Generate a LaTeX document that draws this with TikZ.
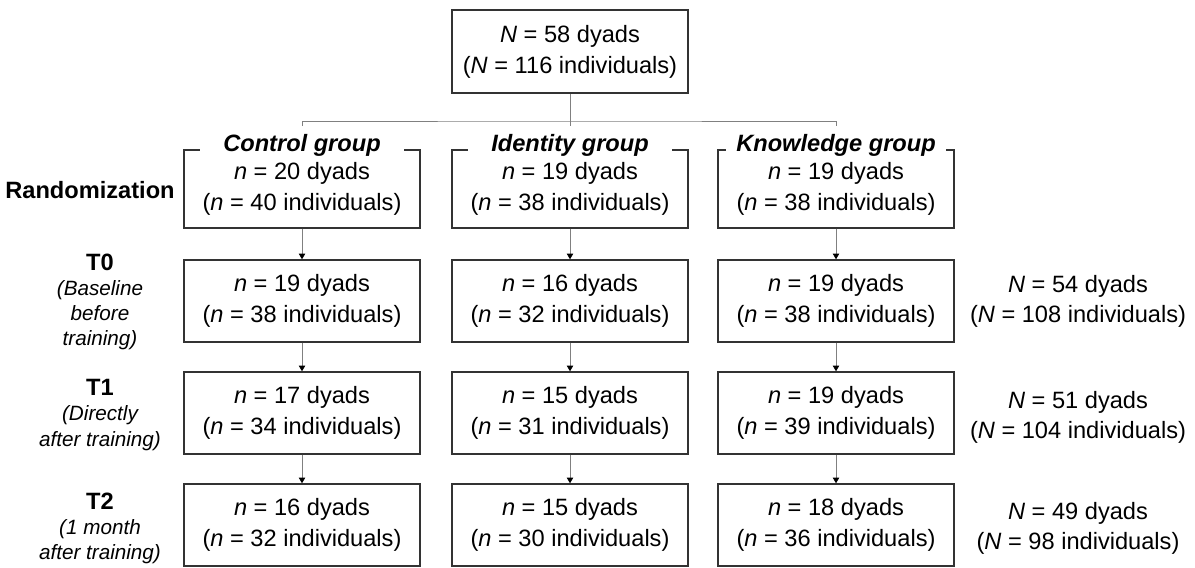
\documentclass[tikz,border=0pt]{standalone}
\usepackage{fontspec}
\setmainfont{Liberation Sans}
\usetikzlibrary{arrows.meta,positioning}
\tikzset{
	grpbox/.style={draw=black!80, line width=1pt, minimum width=5.9cm, minimum height=2.05cm, inner sep=0, align=center, font=\fontsize{16.8}{22}\selectfont},
	grptitle/.style={fill=white, minimum width=5.1cm, inner xsep=0.25cm, inner ysep=2pt, font=\fontsize{16.8}{20}\selectfont\bfseries\itshape},
	timelabel/.style={align=center, font=\fontsize{14.7}{17.8}\selectfont\itshape},
	totlabel/.style={align=center, font=\fontsize{16.8}{21.3}\selectfont},
	conn/.style={color=black!50, line width=0.6pt},
	dirconn/.style={-{Triangle[width=4.5pt,length=4pt,color=black]}, color=black!50, line width=0.6pt}
}
\newcommand{\tstep}[1]{{\fontsize{16.8}{17.8}\selectfont\bfseries\upshape #1}}

\begin{document}
\begin{tikzpicture}[x=0.025cm,y=-0.025cm]
		\useasboundingbox (0,0) rectangle (1195,567);
		%%% whole sample
		\node[grpbox,minimum height=2.08cm] (top) at (570,51.5) {\textit{N} = 58 dyads\\(\textit{N} = 116 individuals)};
		
		%%% randomization
		\node[font=\fontsize{16.8}{20}\selectfont\bfseries] (rand) at (90,190) {Randomization};
		\node[grpbox,minimum height=1.95cm] (crand) at (302,189) {\textit{n} = 20 dyads\\(\textit{n} = 40 individuals)};
		\node[grpbox,minimum height=1.95cm] (irand) at (570,189) {\textit{n} = 19 dyads\\(\textit{n} = 38 individuals)};
		\node[grpbox,minimum height=1.95cm] (krand) at (836,189) {\textit{n} = 19 dyads\\(\textit{n} = 38 individuals)};
		\node[grptitle] (ctitle) at (302,145) {Control group};
		\node[grptitle] (ititle) at (570,145) {Identity group};
		\node[grptitle] (ktitle) at (836,145) {Knowledge group};
		
		%%% T0
		\node[timelabel] (t0) at (100,302) {\tstep{T0}\\(Baseline\\before\\training)};
		\node[grpbox] (ct0) at (302,301) {\textit{n} = 19 dyads\\(\textit{n} = 38 individuals)};
		\node[grpbox] (it0) at (570,301) {\textit{n} = 16 dyads\\(\textit{n} = 32 individuals)};
		\node[grpbox] (kt0) at (836,301) {\textit{n} = 19 dyads\\(\textit{n} = 38 individuals)};
		\node[totlabel] (nt0) at (1078,301) {\textit{N} = 54 dyads\\(\textit{N} = 108 individuals)};
		
		%%% T1
		\node[timelabel] (t1) at (100,415) {\tstep{T1}\\(Directly\\after training)};
		\node[grpbox] (ct1) at (302,413) {\textit{n} = 17 dyads\\(\textit{n} = 34 individuals)};
		\node[grpbox] (it1) at (570,413) {\textit{n} = 15 dyads\\(\textit{n} = 31 individuals)};
		\node[grpbox] (kt1) at (836,413) {\textit{n} = 19 dyads\\(\textit{n} = 39 individuals)};
		\node[totlabel] (nt1) at (1078,417) {\textit{N} = 51 dyads\\(\textit{N} = 104 individuals)};
		
		%%% T2
		\node[timelabel] (t2) at (100,528) {\tstep{T2}\\(1 month\\after training)};
		\node[grpbox] (ct2) at (302,525) {\textit{n} = 16 dyads\\(\textit{n} = 32 individuals)};
		\node[grpbox] (it2) at (570,525) {\textit{n} = 15 dyads\\(\textit{n} = 30 individuals)};
		\node[grpbox] (kt2) at (836,525) {\textit{n} = 18 dyads\\(\textit{n} = 36 individuals)};
		\node[totlabel] (nt2) at (1078,528) {\textit{N} = 49 dyads\\(\textit{N} = 98 individuals)};
		
		%%% split into groups
		\coordinate (split) at (570,121);
		\coordinate (cjoin) at (302,126);
		\coordinate (ijoin) at (570,126);
		\coordinate (kjoin) at (836,126);
		\draw[conn] (top) -- (ijoin);
		\draw[conn] (cjoin) |- (split) -| (kjoin);
		
		\draw[dirconn] (crand) -- (ct0);
		\draw[dirconn] (irand) -- (it0);
		\draw[dirconn] (krand) -- (kt0);
		\draw[dirconn] (ct0) -- (ct1);
		\draw[dirconn] (it0) -- (it1);
		\draw[dirconn] (kt0) -- (kt1);
		\draw[dirconn] (ct1) -- (ct2);
		\draw[dirconn] (it1) -- (it2);
		\draw[dirconn] (kt1) -- (kt2);
	\end{tikzpicture}
\end{document}
